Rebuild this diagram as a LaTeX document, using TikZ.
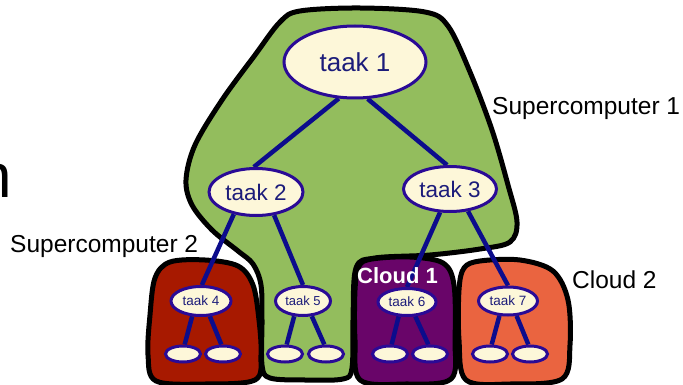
\documentclass[tikz,border=0pt]{standalone}
\usepackage{fontspec}
\setmainfont{Liberation Sans}
\usetikzlibrary{shapes.geometric}
\definecolor{greenblob}{HTML}{93BD5D}
\definecolor{redblob}{HTML}{A71900}
\definecolor{purpleblob}{HTML}{690569}
\definecolor{orangeblob}{HTML}{EA6440}
\definecolor{cream}{HTML}{FDF7D9}
\definecolor{ellbd}{HTML}{2A0A96}
\definecolor{linec}{HTML}{0C0C8C}
\definecolor{navytext}{HTML}{1C1C7A}
\pgfdeclarelayer{bg}
\pgfsetlayers{bg,main}
\tikzset{
  blob/.style={draw=black, line width=5pt, line join=round},
  task/.style={ellipse, draw=ellbd, fill=cream, line width=3pt, inner sep=0pt, text=navytext},
  leaf/.style={task, minimum width=35pt, minimum height=16pt},
  conn/.style={draw=linec, line width=4.5pt},
  lbl/.style={inner sep=0pt, anchor=base west, font=\fontsize{24.5}{24.5}\selectfont}
}
\begin{document}
\begin{tikzpicture}[x=1pt,y=-1pt]
\useasboundingbox (0,0) rectangle (683,385);

% nodes
\node[task, minimum width=142pt, minimum height=72pt, font=\fontsize{26}{26}\selectfont] (t1) at (355,62) {taak 1};
\node[task, minimum width=94pt, minimum height=47pt, font=\fontsize{22.5}{22.5}\selectfont] (t2) at (256,192) {taak 2};
\node[task, minimum width=93pt, minimum height=45pt, font=\fontsize{22.5}{22.5}\selectfont] (t3) at (450,189) {taak 3};
\node[task, minimum width=60pt, minimum height=29pt, font=\fontsize{13.5}{13.5}\selectfont] (t4) at (201,301) {taak 4};
\node[task, minimum width=55pt, minimum height=29pt, font=\fontsize{13}{13}\selectfont] (t5) at (303,301) {taak 5};
\node[task, minimum width=58pt, minimum height=27pt, font=\fontsize{13.5}{13.5}\selectfont] (t6) at (407,302) {taak 6};
\node[task, minimum width=59pt, minimum height=28pt, font=\fontsize{13.5}{13.5}\selectfont] (t7) at (508,301) {taak 7};
\node[leaf] (l4a) at (183,354) {};
\node[leaf] (l4b) at (223,354) {};
\node[leaf] (l5a) at (285,354) {};
\node[leaf] (l5b) at (326,354) {};
\node[leaf] (l6a) at (390,354) {};
\node[leaf] (l6b) at (430,354) {};
\node[leaf] (l7a) at (490,354) {};
\node[leaf] (l7b) at (530,354) {};

\begin{pgfonlayer}{bg}
% green supercomputer 1
\draw[blob, fill=greenblob] plot[smooth cycle, tension=0.55] coordinates {
  (300,11) (360,8) (425,12) (448,26) (470,72) (492,130) (508,185) (517,222)
  (510,242) (480,249) (430,255) (375,258) (356,268) (353,320) (352,368) (343,379)
  (305,380) (270,378) (262,365) (262,320) (261,285) (253,264) (238,251) (212,230)
  (192,205) (186,180) (195,145) (222,100) (255,55) (280,22)};
% red supercomputer 2
\draw[blob, fill=redblob] plot[smooth cycle, tension=0.55] coordinates {
  (170,262) (205,260) (238,266) (253,285) (259,320) (261,355) (255,380)
  (205,384) (156,381) (148,355) (150,315) (155,278)};
% purple cloud 1
\draw[blob, fill=purpleblob] plot[smooth cycle, tension=0.55] coordinates {
  (372,259) (410,257) (443,263) (454,285) (455,340) (451,379)
  (405,384) (360,380) (355,340) (355,290) (359,266)};
% orange cloud 2
\draw[blob, fill=orangeblob] plot[smooth cycle, tension=0.55] coordinates {
  (480,261) (520,260) (553,271) (568,300) (570,345) (562,379)
  (510,384) (466,380) (459,340) (459,290) (464,268)};
% connectors
\draw[conn] (t1.-114) -- (t2.95);
\draw[conn] (t1.-71) -- (t3.97);
\draw[conn] (t2.-135) -- (t4.87);
\draw[conn] (t2.-52) -- (t5.90);
\draw[conn] (t3.-113) -- (t6.90);
\draw[conn] (t3.-51) -- (t7.90);
\draw[conn] (t4.-120) -- (l4a.80);
\draw[conn] (t4.-60) -- (l4b.100);
\draw[conn] (t5.-120) -- (l5a.80);
\draw[conn] (t5.-60) -- (l5b.100);
\draw[conn] (t6.-120) -- (l6a.80);
\draw[conn] (t6.-60) -- (l6b.100);
\draw[conn] (t7.-120) -- (l7a.80);
\draw[conn] (t7.-60) -- (l7b.100);
\end{pgfonlayer}

% labels
\node[lbl] (sc1) at (492,115) {Supercomputer 1};
\node[lbl] (sc2) at (10,252) {Supercomputer 2};
\node[lbl] (c2) at (572,288) {Cloud 2};
\node[lbl, text=white, font=\fontsize{22}{22}\selectfont\bfseries] (c1) at (357,283) {Cloud 1};
\node[inner sep=0pt, anchor=base east, font=\fontsize{62}{62}\selectfont] (cut) at (12,197) {n};
\end{tikzpicture}
\end{document}
